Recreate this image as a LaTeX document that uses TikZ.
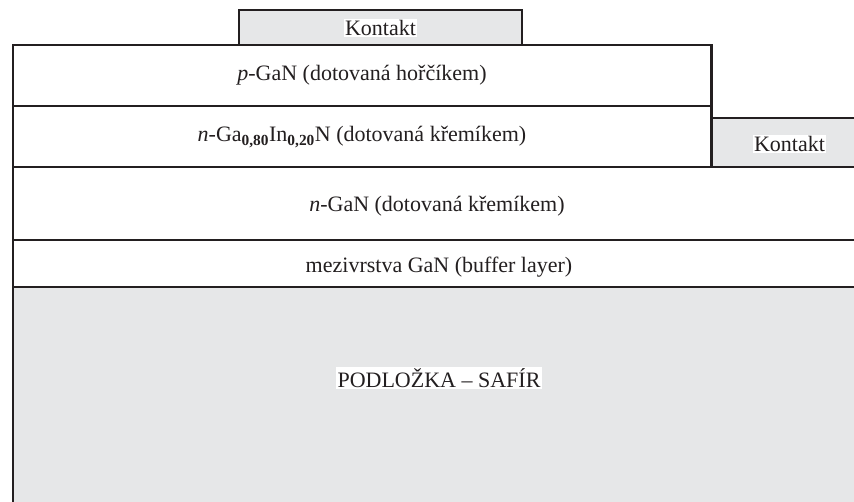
\documentclass[tikz,border=0pt]{standalone}
\usepackage{fontspec}
\setmainfont{Liberation Serif}
\definecolor{edge}{HTML}{231F20}
\definecolor{sub}{HTML}{E6E7E8}
\tikzset{
  layer/.style={draw=edge, line width=2.6pt, rectangle, anchor=north west, inner sep=0pt, outer sep=0pt, fill=white},
  graylayer/.style={layer, fill=sub},
  lbl/.style={inner sep=1.5pt, font=\fontsize{22}{26}\selectfont, text=edge},
  wlbl/.style={lbl, fill=white}
}
\begin{document}
\begin{tikzpicture}[x=1pt, y=-1pt]
\clip (0,0) rectangle (854,502);
\fill[white] (0,0) rectangle (854,502);
% layers
\node[graylayer, minimum width=850pt, minimum height=260pt] (sub) at (13,287) {};
\node[layer, minimum width=850pt, minimum height=47pt] (buf) at (13,240) {};
\node[layer, minimum width=850pt, minimum height=73pt] (ngan) at (13,167) {};
\node[graylayer, minimum width=160pt, minimum height=49pt] (k2) at (711.5,118) {};
\node[layer, minimum width=698.5pt, minimum height=61pt] (gain) at (13,106) {};
\node[layer, minimum width=698.5pt, minimum height=61pt] (pgan) at (13,45) {};
\node[graylayer, minimum width=283pt, minimum height=35pt] (k1) at (239,10) {};
% labels
\node[wlbl] (k1t) at (380.5,28) {Kontakt};
\node[wlbl] (k2t) at (789.5,144) {Kontakt};
\node[lbl] (pgant) at (362,75) {\textit{p}-GaN (dotovaná hořčíkem)};
\node[lbl] (gaint) at (362,137) {\textit{n}-Ga\textsubscript{\textbf{0,80}}In\textsubscript{\textbf{0,20}}N (dotovaná křemíkem)};
\node[lbl] (ngant) at (437,206) {\textit{n}-GaN (dotovaná křemíkem)};
\node[lbl] (buft) at (439,267) {mezivrstva GaN (buffer layer)};
\node[wlbl] (subt) at (439,378) {PODLOŽKA – SAFÍR};
\end{tikzpicture}
\end{document}
